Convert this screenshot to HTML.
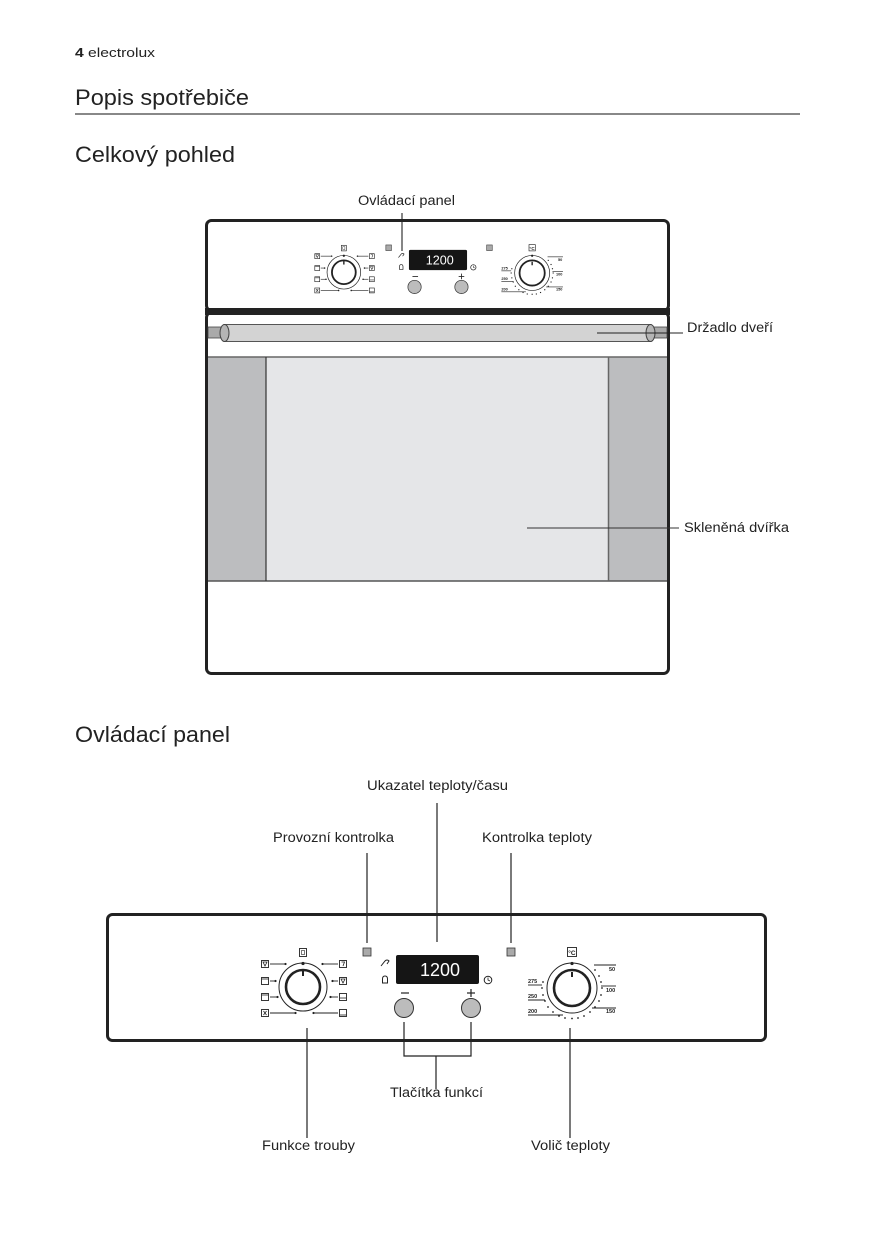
<!DOCTYPE html>
<html>
<head>
<meta charset="utf-8">
<style>
html,body{margin:0;padding:0;background:#fff;}
svg{display:block;}
text{font-family:"Liberation Sans",Arial,sans-serif;fill:#222;}
</style>
</head>
<body>
<svg width="875" height="1240" viewBox="0 0 875 1240" xmlns="http://www.w3.org/2000/svg">
<defs>
<g id="panel">
  <!-- LEDs -->
  <rect x="363" y="948" width="8" height="8" fill="#aaa" stroke="#333" stroke-width="0.8"/>
  <rect x="507" y="948" width="8" height="8" fill="#aaa" stroke="#333" stroke-width="0.8"/>
  <!-- display -->
  <rect x="396" y="955" width="83" height="29" rx="2" fill="#151515"/>
  <text x="420" y="976" font-size="18" textLength="40" lengthAdjust="spacingAndGlyphs" style="fill:#fff">1200</text>
  <!-- key icon -->
  <path d="M381 966 L385 961 Q387 959 389 961 L387 964" fill="none" stroke="#222" stroke-width="1"/>
  <!-- bell -->
  <path d="M382.5 983 L382.5 979 Q382.5 976 385 976 Q387.5 976 387.5 979 L387.5 983 Z" fill="none" stroke="#222" stroke-width="1"/>
  <!-- clock -->
  <circle cx="488" cy="980" r="3.8" fill="none" stroke="#222" stroke-width="1"/>
  <path d="M488 977.5 L488 980 L490 981" fill="none" stroke="#222" stroke-width="0.8"/>
  <!-- minus / plus -->
  <line x1="401" y1="993" x2="409" y2="993" stroke="#222" stroke-width="1.2"/>
  <line x1="467" y1="993" x2="475" y2="993" stroke="#222" stroke-width="1.2"/>
  <line x1="471" y1="989" x2="471" y2="997" stroke="#222" stroke-width="1.2"/>
  <!-- buttons -->
  <circle cx="404" cy="1008" r="9.5" fill="#bcbcbc" stroke="#333" stroke-width="1"/>
  <circle cx="471" cy="1008" r="9.5" fill="#bcbcbc" stroke="#333" stroke-width="1"/>

  <!-- left knob -->
  <circle cx="303" cy="987" r="24" fill="#fff" stroke="#222" stroke-width="1"/>
  <circle cx="303" cy="987" r="17" fill="#fff" stroke="#222" stroke-width="2.6"/>
  <circle cx="303" cy="963.5" r="1.6" fill="#222"/>
  <line x1="303" y1="971" x2="303" y2="976" stroke="#222" stroke-width="2"/>
  <rect x="299.5" y="948.5" width="7" height="8" fill="#fff" stroke="#222" stroke-width="0.9"/>
  <rect x="301.5" y="950.5" width="3" height="4" fill="none" stroke="#222" stroke-width="0.6"/>
  <!-- left icons -->
  <g fill="#fff" stroke="#222" stroke-width="0.9">
    <rect x="261.5" y="960.5" width="7" height="7"/>
    <rect x="261.5" y="977.5" width="7" height="7"/>
    <rect x="261.5" y="993.5" width="7" height="7"/>
    <rect x="261.5" y="1009.5" width="7" height="7"/>
    <rect x="339.5" y="960.5" width="7" height="7"/>
    <rect x="339.5" y="977.5" width="7" height="7"/>
    <rect x="339.5" y="993.5" width="7" height="7"/>
    <rect x="339.5" y="1009.5" width="7" height="7"/>
  </g>
  <g stroke="#222" stroke-width="0.8" fill="none">
    <path d="M263 962 L267 962 L265 966 Z"/>
    <line x1="262" y1="979" x2="268" y2="979"/>
    <line x1="262" y1="995" x2="268" y2="995"/>
    <path d="M263.5 1011 L266.5 1015 M266.5 1011 L263.5 1015"/>
    <path d="M341.5 962 L344.5 962 L343 966"/>
    <path d="M341 979 L345 979 L343 983 Z"/>
    <line x1="340" y1="998" x2="346" y2="998"/>
    <line x1="340" y1="1015" x2="346" y2="1015"/>
  </g>
  <g stroke="#222" stroke-width="0.9">
    <line x1="270" y1="964" x2="285" y2="964"/>
    <line x1="270" y1="981" x2="275" y2="981"/>
    <line x1="270" y1="997" x2="277" y2="997"/>
    <line x1="270" y1="1013" x2="295" y2="1013"/>
    <line x1="323" y1="964" x2="338" y2="964"/>
    <line x1="333" y1="981" x2="338" y2="981"/>
    <line x1="331" y1="997" x2="338" y2="997"/>
    <line x1="314" y1="1013" x2="338" y2="1013"/>
  </g>
  <g fill="#222">
    <circle cx="285.5" cy="964" r="1.1"/><circle cx="275.5" cy="981" r="1.1"/>
    <circle cx="277.5" cy="997" r="1.1"/><circle cx="295.5" cy="1013" r="1.1"/>
    <circle cx="322.5" cy="964" r="1.1"/><circle cx="332.5" cy="981" r="1.1"/>
    <circle cx="330.5" cy="997" r="1.1"/><circle cx="313.5" cy="1013" r="1.1"/>
  </g>

  <!-- right knob -->
  <circle cx="572" cy="988" r="25" fill="#fff" stroke="#222" stroke-width="1"/>
  <circle cx="572" cy="988" r="18" fill="#fff" stroke="#222" stroke-width="2.6"/>
  <circle cx="572" cy="963.5" r="1.6" fill="#222"/>
  <line x1="572" y1="972" x2="572" y2="977" stroke="#222" stroke-width="2"/>
  <rect x="567.5" y="947.5" width="9" height="9" fill="#fff" stroke="#222" stroke-width="0.9"/>
  <text x="568.3" y="955" font-size="6.5" font-weight="bold">°C</text>
  <g fill="#222">
    <circle cx="595" cy="970" r="0.9"/><circle cx="599" cy="976" r="0.9"/><circle cx="601" cy="982" r="0.9"/>
    <circle cx="602" cy="988" r="0.9"/><circle cx="601" cy="995" r="0.9"/><circle cx="599" cy="1001" r="0.9"/>
    <circle cx="595" cy="1007" r="0.9"/><circle cx="590" cy="1012" r="0.9"/><circle cx="584" cy="1016" r="0.9"/>
    <circle cx="578" cy="1018" r="0.9"/><circle cx="572" cy="1018.5" r="0.9"/><circle cx="565" cy="1018" r="0.9"/>
    <circle cx="559" cy="1016" r="0.9"/><circle cx="553" cy="1012" r="0.9"/><circle cx="548" cy="1007" r="0.9"/>
    <circle cx="545" cy="1001" r="0.9"/><circle cx="543" cy="995" r="0.9"/><circle cx="542" cy="988" r="0.9"/>
    <circle cx="543" cy="982" r="0.9"/>
  </g>
  <g stroke="#222" stroke-width="0.9">
    <line x1="594" y1="965" x2="616" y2="965"/>
    <line x1="601" y1="986" x2="616" y2="986"/>
    <line x1="592" y1="1008" x2="616" y2="1008"/>
    <line x1="528" y1="985" x2="542" y2="985"/>
    <line x1="528" y1="1000" x2="545" y2="1000"/>
    <line x1="528" y1="1015" x2="563" y2="1015"/>
  </g>
  <g font-size="5.5" font-weight="bold">
    <text x="609" y="971">50</text>
    <text x="606" y="992">100</text>
    <text x="606" y="1013">150</text>
    <text x="528" y="983">275</text>
    <text x="528" y="998">250</text>
    <text x="528" y="1013">200</text>
  </g>
</g>
</defs>

<!-- Header -->
<text x="75" y="57" font-size="13" textLength="80" lengthAdjust="spacingAndGlyphs"><tspan font-weight="bold">4</tspan> electrolux</text>
<text x="75" y="105" font-size="22.5" textLength="174" lengthAdjust="spacingAndGlyphs">Popis spotřebiče</text>
<rect x="75" y="113" width="725" height="2" fill="#888"/>
<text x="75" y="162" font-size="22.5" textLength="160" lengthAdjust="spacingAndGlyphs">Celkový pohled</text>

<!-- Top oven -->
<text x="358" y="205" font-size="13.5" textLength="97" lengthAdjust="spacingAndGlyphs">Ovládací panel</text>

<rect x="206.5" y="220.5" width="462" height="90" rx="5" fill="#fff" stroke="#222" stroke-width="3"/>
<!-- door -->
<rect x="206.5" y="312.5" width="462" height="361" rx="5" fill="#fff" stroke="#222" stroke-width="3"/>
<rect x="205" y="308" width="465" height="7" fill="#222"/>
<!-- side panels and glass -->
<rect x="208" y="357" width="459" height="224" fill="#bcbdbf"/>
<rect x="266" y="357" width="342" height="224" fill="#e5e6e8"/>
<line x1="208" y1="357" x2="667" y2="357" stroke="#666" stroke-width="1.5"/>
<line x1="208" y1="581" x2="667" y2="581" stroke="#555" stroke-width="1.5"/>
<line x1="266" y1="357" x2="266" y2="581" stroke="#333" stroke-width="1.2"/>
<line x1="608.5" y1="357" x2="608.5" y2="581" stroke="#666" stroke-width="1.5"/>
<!-- handle -->
<rect x="208" y="327" width="16" height="11" fill="#aaa" stroke="#444" stroke-width="0.8"/>
<rect x="651" y="327" width="16" height="11" fill="#aaa" stroke="#444" stroke-width="0.8"/>
<rect x="224" y="324.5" width="427" height="17" fill="#d3d3d3" stroke="#555" stroke-width="1"/>
<ellipse cx="224.5" cy="333" rx="4.5" ry="8.5" fill="#b5b5b5" stroke="#444" stroke-width="1"/>
<ellipse cx="650.5" cy="333" rx="4.5" ry="8.5" fill="#b5b5b5" stroke="#444" stroke-width="1"/>
<line x1="597" y1="333" x2="683" y2="333" stroke="#222" stroke-width="1.1"/>
<text x="687" y="332" font-size="13.5" textLength="86" lengthAdjust="spacingAndGlyphs">Držadlo dveří</text>
<line x1="527" y1="528" x2="679" y2="528" stroke="#333" stroke-width="1.1"/>
<text x="684" y="532" font-size="13.5" textLength="105" lengthAdjust="spacingAndGlyphs">Skleněná dvířka</text>

<use href="#panel" transform="translate(438,260) scale(0.7) translate(-437.5,-969.5)"/>
<line x1="402" y1="213" x2="402" y2="251" stroke="#222" stroke-width="1.1"/>

<!-- Control panel section -->
<text x="75" y="742" font-size="22.5" textLength="155" lengthAdjust="spacingAndGlyphs">Ovládací panel</text>

<text x="367" y="790" font-size="13.5" textLength="141" lengthAdjust="spacingAndGlyphs">Ukazatel teploty/času</text>
<text x="273" y="842" font-size="13.5" textLength="121" lengthAdjust="spacingAndGlyphs">Provozní kontrolka</text>
<text x="482" y="842" font-size="13.5" textLength="110" lengthAdjust="spacingAndGlyphs">Kontrolka teploty</text>

<rect x="107.5" y="914.5" width="658" height="126" rx="5" fill="#fff" stroke="#222" stroke-width="3"/>
<use href="#panel"/>

<g stroke="#222" stroke-width="1.2">
  <line x1="437" y1="803" x2="437" y2="942"/>
  <line x1="367" y1="853" x2="367" y2="943"/>
  <line x1="511" y1="853" x2="511" y2="943"/>
</g>

<g stroke="#222" stroke-width="1.2" fill="none">
  <line x1="307" y1="1028" x2="307" y2="1138"/>
  <line x1="570" y1="1028" x2="570" y2="1138"/>
  <path d="M404 1022 L404 1056 L471 1056 L471 1022"/>
  <line x1="436" y1="1056" x2="436" y2="1089"/>
</g>
<text x="390" y="1097" font-size="13.5" textLength="93" lengthAdjust="spacingAndGlyphs">Tlačítka funkcí</text>
<text x="262" y="1150" font-size="13.5" textLength="93" lengthAdjust="spacingAndGlyphs">Funkce trouby</text>
<text x="531" y="1150" font-size="13.5" textLength="79" lengthAdjust="spacingAndGlyphs">Volič teploty</text>
</svg>
</body>
</html>
